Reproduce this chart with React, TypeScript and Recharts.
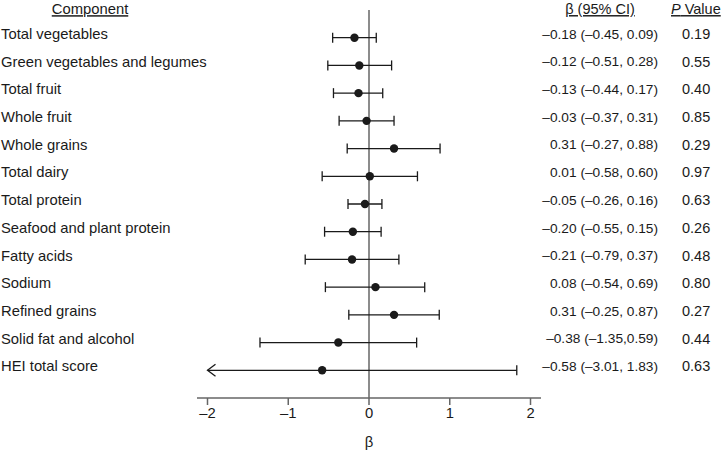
import { ReferenceLine, Scatter, ScatterChart, XAxis, YAxis } from "recharts";

const components = [
  "Total vegetables",
  "Green vegetables and legumes",
  "Total fruit",
  "Whole fruit",
  "Whole grains",
  "Total dairy",
  "Total protein",
  "Seafood and plant protein",
  "Fatty acids",
  "Sodium",
  "Refined grains",
  "Solid fat and alcohol",
  "HEI total score",
];
const beta = [-0.18, -0.12, -0.13, -0.03, 0.31, 0.01, -0.05, -0.2, -0.21, 0.08, 0.31, -0.38, -0.58];
const lower = [-0.45, -0.51, -0.44, -0.37, -0.27, -0.58, -0.26, -0.55, -0.79, -0.54, -0.25, -1.35, -3.01];
const upper = [0.09, 0.28, 0.17, 0.31, 0.88, 0.6, 0.16, 0.15, 0.37, 0.69, 0.87, 0.59, 1.83];
const ciText = [
  "–0.18 (–0.45, 0.09)",
  "–0.12 (–0.51, 0.28)",
  "–0.13 (–0.44, 0.17)",
  "–0.03 (–0.37, 0.31)",
  "0.31 (–0.27, 0.88)",
  "0.01 (–0.58, 0.60)",
  "–0.05 (–0.26, 0.16)",
  "–0.20 (–0.55, 0.15)",
  "–0.21 (–0.79, 0.37)",
  "0.08 (–0.54, 0.69)",
  "0.31 (–0.25, 0.87)",
  "–0.38 (–1.35,0.59)",
  "–0.58 (–3.01, 1.83)",
];
const pValues = ["0.19", "0.55", "0.40", "0.85", "0.29", "0.97", "0.63", "0.26", "0.48", "0.80", "0.27", "0.44", "0.63"];
const xTicks = [-2, -1, 0, 1, 2];

const X_MIN = -2.13;
const X_MAX = 2.13;
const CLIP = -2;
const FONT = "Liberation Sans, Arial, Helvetica, sans-serif";
const INK = "#1a1a1a";
const rowTicks = [-1, ...components.map((_, i) => i)];

const points = components.map((_, i) => ({ x: beta[i], y: i }));
// lower end past the axis gets an arrow instead of a cap
const segments = components.map((_, i) => [
  { x: Math.max(lower[i], CLIP), y: i, end: lower[i] < CLIP ? "arrow" : "cap" },
  { x: upper[i], y: i, end: "cap" },
]);

function EndMark(props: any) {
  const { cx, cy, payload } = props;
  if (payload.end === "arrow") {
    return (
      <path
        d={`M${cx + 8},${cy - 6} L${cx},${cy} L${cx + 8},${cy + 6}`}
        fill="none"
        stroke={INK}
        strokeWidth={1.3}
      />
    );
  }
  return <line x1={cx} y1={cy - 5} x2={cx} y2={cy + 5} stroke={INK} strokeWidth={1.3} />;
}

function Dot(props: any) {
  return <circle cx={props.cx} cy={props.cy} r={4.2} fill={INK} />;
}

function LeftTick(props: any) {
  const { y, payload } = props;
  const i = payload.value;
  if (i < 0) {
    return (
      <text x={90} y={y - 1} dy="0.35em" textAnchor="middle" fontSize={14.8} fill={INK} fontFamily={FONT} textDecoration="underline">
        Component
      </text>
    );
  }
  return (
    <text x={1} y={y - 4} dy="0.35em" textAnchor="start" fontSize={14.8} fill={INK} fontFamily={FONT}>
      {components[i]}
    </text>
  );
}

function RightTick(props: any) {
  const { y, payload } = props;
  const i = payload.value;
  if (i < 0) {
    return (
      <g fontFamily={FONT} fontSize={14.5} fill={INK}>
        <text x={600} y={y - 1} dy="0.35em" textAnchor="middle" textDecoration="underline">
          β (95% CI)
        </text>
        <text x={671} y={y - 1} dy="0.35em" textAnchor="start" textDecoration="underline">
          <tspan fontStyle="italic">P</tspan> Value
        </text>
      </g>
    );
  }
  return (
    <g fontFamily={FONT} fill={INK}>
      <text x={658} y={y - 4} dy="0.35em" textAnchor="end" fontSize={13.7}>
        {ciText[i]}
      </text>
      <text x={682} y={y - 4} dy="0.35em" textAnchor="start" fontSize={14.5}>
        {pValues[i]}
      </text>
    </g>
  );
}

export default function App() {
  return (
    <div style={{ position: "absolute", left: 0, top: 0, width: 722, height: 451, background: "#fff" }}>
      <ScatterChart width={722} height={451} margin={{ top: 10, right: 0, bottom: 0, left: 0 }}>
        <XAxis
          type="number"
          dataKey="x"
          domain={[X_MIN, X_MAX]}
          ticks={xTicks}
          allowDataOverflow
          height={53}
          axisLine={{ stroke: "#666", strokeWidth: 1.5 }}
          tickLine={{ stroke: "#666", strokeWidth: 1.5 }}
          tickSize={7}
          tick={{ fill: INK, fontSize: 14.8, fontFamily: FONT }}
          tickFormatter={(v: number) => (v < 0 ? `–${Math.abs(v)}` : String(v))}
          label={{ value: "β", position: "insideBottom", offset: 4, fill: INK, fontSize: 14.8, fontFamily: FONT }}
        />
        <YAxis
          yAxisId="left"
          type="number"
          dataKey="y"
          domain={[-1, 13]}
          reversed
          ticks={rowTicks}
          interval={0}
          width={197}
          axisLine={false}
          tickLine={false}
          tick={<LeftTick />}
        />
        <YAxis
          yAxisId="right"
          orientation="right"
          type="number"
          dataKey="y"
          domain={[-1, 13]}
          reversed
          ticks={rowTicks}
          interval={0}
          width={181}
          axisLine={false}
          tickLine={false}
          tick={<RightTick />}
        />
        <ReferenceLine x={0} yAxisId="left" stroke="#666" strokeWidth={1.5} />
        {segments.map((seg, i) => (
          <Scatter
            key={i}
            yAxisId="left"
            data={seg}
            line={{ stroke: INK, strokeWidth: 1.3 }}
            shape={<EndMark />}
            isAnimationActive={false}
          />
        ))}
        <Scatter yAxisId="right" data={points} shape={<Dot />} isAnimationActive={false} />
      </ScatterChart>
    </div>
  );
}
